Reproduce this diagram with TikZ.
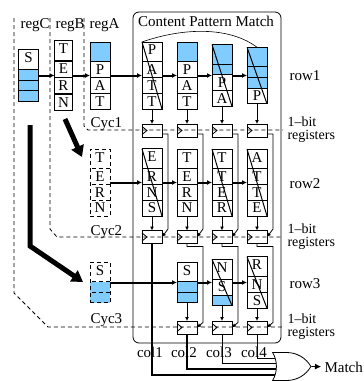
\documentclass[tikz,border=0pt]{standalone}
\usepackage{fontspec}
\setmainfont{Liberation Serif}
\usetikzlibrary{positioning,arrows.meta,shapes.multipart,shapes.gates.logic.US}
\definecolor{cellblue}{RGB}{128,204,255}

\begin{document}
\begin{tikzpicture}[x=1pt,y=-1pt,node distance=35pt,on grid,
  font=\fontsize{15}{15}\selectfont,
  col/.style={rectangle split,rectangle split parts=4,draw,line width=0.8pt,
    minimum width=20pt,inner xsep=0pt,inner ysep=2.6pt,outer sep=0pt,
    text height=10pt,text depth=3.5pt},
  bit/.style={draw,line width=0.8pt,minimum width=20pt,minimum height=13pt,
    inner sep=0pt,outer sep=0pt},
  row/.style={line width=2pt,-{Latex[length=5pt,width=5pt]}},
  link/.style={line width=0.8pt,-{Latex[length=4pt,width=4pt]}},
  cyc/.style={line width=0.8pt,dash pattern=on 4pt off 3pt},
  cut/.style={line width=1pt},
  big/.style={line width=5pt,-{Triangle[length=11pt,width=13pt]}},
  bitlabel/.style={anchor=west,align=left,font=\fontsize{14}{13}\selectfont}]
\useasboundingbox (0,0) rectangle (364,381);

% register groups and pattern box
\draw[cyc] (14,18) -- (14,293) -- (48,327) -- (283,327);
\draw[cyc] (50,18) -- (50,229) -- (57,237) -- (283,237);
\draw[cyc] (84,18) -- (84,126) -- (88,130) -- (283,130);
\draw[line width=0.8pt,rounded corners=6pt] (133,12) rectangle (281,343);
\node[anchor=base west] (lregC) at (17,28) {regC};
\node[anchor=base west] (lregB) at (52,28) {regB};
\node[anchor=base west] (lregA) at (86,28) {regA};
\node[anchor=base] (lcpm) at (206,26) {Content Pattern Match};
\node[anchor=base west] (lcyc1) at (87,127) {Cyc1};
\node[anchor=base west] (lcyc2) at (87,235) {Cyc2};
\node[anchor=base west] (lcyc3) at (87,323) {Cyc3};

% row1
\node[col,rectangle split part fill={white,cellblue}] (regC) at (28.5,75.5)
  {S\nodepart{two}~\nodepart{three}~\nodepart{four}~};
\node[col,line width=1.6pt,minimum width=18pt] (regB) at (63.5,75.5)
  {T\nodepart{two}E\nodepart{three}R\nodepart{four}N};
\node[col,rectangle split part fill={cellblue,white}] (regA) at (100,75.5)
  {~\nodepart{two}P\nodepart{three}A\nodepart{four}T};
\node[col] (c11) at (152,75.5) {P\nodepart{two}A\nodepart{three}T\nodepart{four}T};
\node[col,rectangle split part fill={cellblue,white}] (c12) [right=of c11]
  {~\nodepart{two}P\nodepart{three}A\nodepart{four}T};
\node[col,rectangle split part fill={cellblue,cellblue,white}] (c13) [right=of c12]
  {~\nodepart{two}~\nodepart{three}P\nodepart{four}A};
\node[col,rectangle split part fill={cellblue,cellblue,cellblue,white}] (c14) [right=of c13]
  {~\nodepart{two}~\nodepart{three}~\nodepart{four}P};
\node[anchor=base west] (lrow1) at (286,80) {row1};

% row2
\node[col,cyc] (regB2) at (100,182.5)
  {T\nodepart{two}E\nodepart{three}R\nodepart{four}N};
\node[col] (c21) at (152,182.5) {E\nodepart{two}R\nodepart{three}N\nodepart{four}S};
\node[col] (c22) [right=of c21] {T\nodepart{two}E\nodepart{three}R\nodepart{four}N};
\node[col] (c23) [right=of c22] {T\nodepart{two}T\nodepart{three}E\nodepart{four}R};
\node[col] (c24) [right=of c23] {A\nodepart{two}T\nodepart{three}T\nodepart{four}E};
\node[anchor=base west] (lrow2) at (286,188) {row2};

% row3
\node[col,cyc,rectangle split parts=3,rectangle split part fill={white,cellblue}] (regC3)
  at (100,282.5) {S\nodepart{two}~\nodepart{three}~};
\node[col,rectangle split parts=3,rectangle split part fill={white,cellblue}] (c32)
  at (187,282.5) {S\nodepart{two}~\nodepart{three}~};
\node[col,rectangle split parts=3,rectangle split part fill={white,white,cellblue}] (c33)
  [right=of c32] {N\nodepart{two}S\nodepart{three}~};
\node[col,rectangle split parts=3] (c34) [right=of c33] {R\nodepart{two}N\nodepart{three}S};
\node[anchor=base west] (lrow3) at (286,288) {row3};

% shifted-out marks
\draw[cut] (c11.north west) -- (c11.south east);
\draw[cut] (c13.north west) -- (c13.south east);
\draw[cut] (c14.north west) -- (c14.south east);
\draw[cut] (c21.north west) -- (c21.south east);
\draw[cut] (c23.north west) -- (c23.south east);
\draw[cut] (c24.north west) -- (c24.south east);
\draw[cut] (c33.north west) -- (c33.south east);
\draw[cut] (c34.north west) -- (c34.south east);
\draw[line width=0.6pt] (c11.north west) .. controls (185,27) and (230,27) .. (c14.north);

% 1-bit registers
\node[bit] (r11) at (152,130.5) {};
\node[bit] (r12) [right=of r11] {};
\node[bit] (r13) [right=of r12] {};
\node[bit] (r14) [right=of r13] {};
\node[bit] (r21) at (152,237) {};
\node[bit] (r22) [right=of r21] {};
\node[bit] (r23) [right=of r22] {};
\node[bit] (r24) [right=of r23] {};
\node[bit] (r32) at (187,327.5) {};
\node[bit] (r33) [right=of r32] {};
\node[bit] (r34) [right=of r33] {};
\foreach \r in {r11,r12,r13,r14,r21,r22,r23,r24,r32,r33,r34}
  \draw[line width=0.8pt] ([yshift=4pt]\r.west) -- ([xshift=5pt]\r.west) -- ([yshift=-4pt]\r.west);
\node[bitlabel] (lbit1) at (284,130) {1--bit\\registers};
\node[bitlabel] (lbit2) at (284,237) {1--bit\\registers};
\node[bitlabel] (lbit3) at (284,327) {1--bit\\registers};
\node[anchor=base] (lcol1) at (150,357) {col1};
\node[anchor=base] (lcol2) at (184,357) {col2};
\node[anchor=base] (lcol3) at (219,357) {col3};
\node[anchor=base] (lcol4) at (254,357) {col4};

% shifting data
\draw[row] (regC) -- (regB);
\draw[row] (regB) -- (regA);
\draw[row] (regA) -- (c11);
\draw[row] (c11) -- (c12);
\draw[row] (c12) -- (c13);
\draw[row] (c13) -- (c14);
\draw[row] (regB2) -- (c21);
\draw[row] (c21) -- (c22);
\draw[row] (c22) -- (c23);
\draw[row] (c23) -- (c24);
\draw[row] (regC3) -- (c32);
\draw[row] (c32) -- (c33);
\draw[row] (c33) -- (c34);
\draw[big] (65,119) -- (82,157);
\draw[big] (30,125) -- (30,246) -- (83,282);

% match bits
\foreach \c/\r in {c11/r11,c12/r12,c13/r13,c14/r14,c21/r21,c22/r22,c23/r23,c24/r24,c32/r32,c33/r33,c34/r34}
  \draw[link] (\c) -- (\r);
\foreach \a/\b in {r11/r21,r12/r22,r13/r23,r14/r24}
  \draw[link] ([yshift=3pt]\a.south east) -- ++(6,0) -- ++(0,95) -- (\b.east);
\foreach \a/\b in {r22/r32,r23/r33,r24/r34}
  \draw[link] (\a.south) -- ++(0,3) -| ++(16,76) -- (\b.east);

% final OR
\node[or gate US,draw,line width=0.8pt,logic gate inputs=nnnn,minimum height=27pt,
  minimum width=32pt,inner sep=0pt] (or) at (289,366.5) {};
\node[anchor=west] (lmatch) at (321,367) {Match};
\draw[line width=0.8pt] (r34.south) |- (or.input 1);
\draw[line width=0.8pt] (r33.south) |- (or.input 2);
\draw[line width=2pt] (r32.south) |- (or.input 3);
\draw[line width=1.6pt] (r21.south) |- (or.input 4);
\draw[line width=0.8pt,-{Latex[length=6pt,width=6pt]}] (or.output) -- (lmatch);
\end{tikzpicture}
\end{document}
